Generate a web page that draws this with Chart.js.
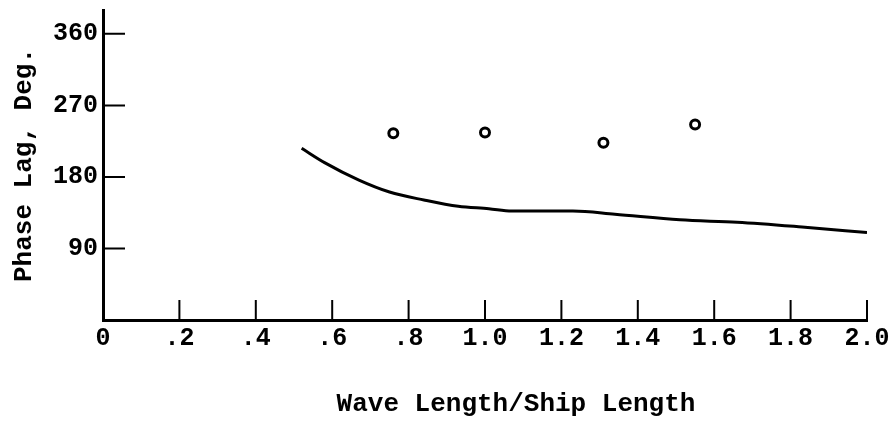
<!DOCTYPE html>
<html>
<head>
<meta charset="utf-8">
<script src="https://cdn.jsdelivr.net/npm/chart.js@4/dist/chart.umd.min.js"></script>
<style>
html,body{margin:0;padding:0;background:#fff;}
#wrap{width:894px;height:424px;}
</style>
</head>
<body>
<div id="wrap"><canvas id="c" width="894" height="424"></canvas></div>
<script>
// Data
const curveX = [0.52, 0.58, 0.67, 0.75, 0.84, 0.93, 1.01, 1.07, 1.23, 1.34, 1.51, 1.66, 1.83, 2.0];
const curveY = [216, 198, 176, 161, 151, 143, 140, 137, 137, 133, 126, 123, 117, 110];
const expX = [0.76, 1.0, 1.31, 1.55];
const expY = [235, 236, 223, 246];
const xTicks = [0, 0.2, 0.4, 0.6, 0.8, 1.0, 1.2, 1.4, 1.6, 1.8, 2.0];
const xTickLabels = ['0', '.2', '.4', '.6', '.8', '1.0', '1.2', '1.4', '1.6', '1.8', '2.0'];
const yTicks = [90, 180, 270, 360];
const yTickLabels = ['90', '180', '270', '360'];
const xTitle = 'Wave Length/Ship Length';
const yTitle = 'Phase Lag, Deg.';

const FONT = "'Liberation Mono', 'DejaVu Sans Mono', monospace";

const innerTicks = {
  id: 'innerTicks',
  afterDatasetsDraw(chart) {
    const ctx = chart.ctx;
    const xs = chart.scales.x, ys = chart.scales.y;
    ctx.save();
    ctx.strokeStyle = '#000';
    ctx.lineWidth = 2;
    ctx.beginPath();
    yTicks.forEach(v => {
      const py = ys.getPixelForValue(v);
      ctx.moveTo(xs.left, py);
      ctx.lineTo(xs.left + 22, py);
    });
    xTicks.forEach((v, i) => {
      if (i === 0) return;
      const px = xs.getPixelForValue(v);
      ctx.moveTo(px, ys.bottom);
      ctx.lineTo(px, ys.bottom - 20);
    });
    ctx.stroke();
    // x axis title
    ctx.fillStyle = '#000';
    ctx.font = "bold 26px " + FONT;
    ctx.textAlign = 'center';
    ctx.textBaseline = 'middle';
    ctx.fillText(xTitle, 516, 404);
    ctx.restore();
  }
};

new Chart(document.getElementById('c'), {
  type: 'scatter',
  data: {
    datasets: [
      {
        label: 'Theory',
        data: curveX.map((x, i) => ({x, y: curveY[i]})),
        showLine: true,
        borderColor: '#000',
        borderWidth: 3,
        pointRadius: 0,
        cubicInterpolationMode: 'monotone',
        fill: false
      },
      {
        label: 'Experiment',
        data: expX.map((x, i) => ({x, y: expY[i]})),
        showLine: false,
        pointStyle: 'circle',
        pointRadius: 4.5,
        borderWidth: 3,
        borderColor: '#000',
        backgroundColor: '#fff'
      }
    ]
  },
  options: {
    responsive: false,
    animation: false,
    devicePixelRatio: 1,
    layout: { padding: { left: 9, right: 27, top: 10, bottom: 0 } },
    plugins: { legend: { display: false }, tooltip: { enabled: false } },
    scales: {
      x: {
        type: 'linear',
        min: 0,
        max: 2.0,
        afterBuildTicks: s => { s.ticks = xTicks.map(v => ({value: v})); },
        afterFit: s => { s.height = 104; s.paddingLeft = 0; s.paddingRight = 0; },
        grid: { display: true, drawOnChartArea: false, drawTicks: false, color: 'rgba(0,0,0,0)' },
        border: { display: true, color: '#000', width: 3 },
        ticks: {
          color: '#000',
          padding: 4,
          maxRotation: 0,
          autoSkip: false,
          font: { family: FONT, size: 25, weight: 'bold' },
          callback: (v) => { const i = xTicks.findIndex(t => Math.abs(t - v) < 1e-6); return i >= 0 ? xTickLabels[i] : ''; }
        },
        title: { display: false }
      },
      y: {
        type: 'linear',
        min: 0,
        max: 390,
        afterBuildTicks: s => { s.ticks = yTicks.map(v => ({value: v})); },
        afterFit: s => { s.width = 94; s.paddingTop = 0; s.paddingBottom = 0; },
        grid: { display: true, drawOnChartArea: false, drawTicks: false, color: 'rgba(0,0,0,0)' },
        border: { display: true, color: '#000', width: 3 },
        ticks: {
          color: '#000',
          padding: 5,
          font: { family: FONT, size: 25, weight: 'bold' },
          callback: (v) => { const i = yTicks.indexOf(v); return i >= 0 ? yTickLabels[i] : ''; }
        },
        title: {
          display: true,
          text: yTitle,
          color: '#000',
          font: { family: FONT, size: 26, weight: 'bold' },
          padding: { top: 0, bottom: 4 }
        }
      }
    }
  },
  plugins: [innerTicks]
});
</script>
</body>
</html>
